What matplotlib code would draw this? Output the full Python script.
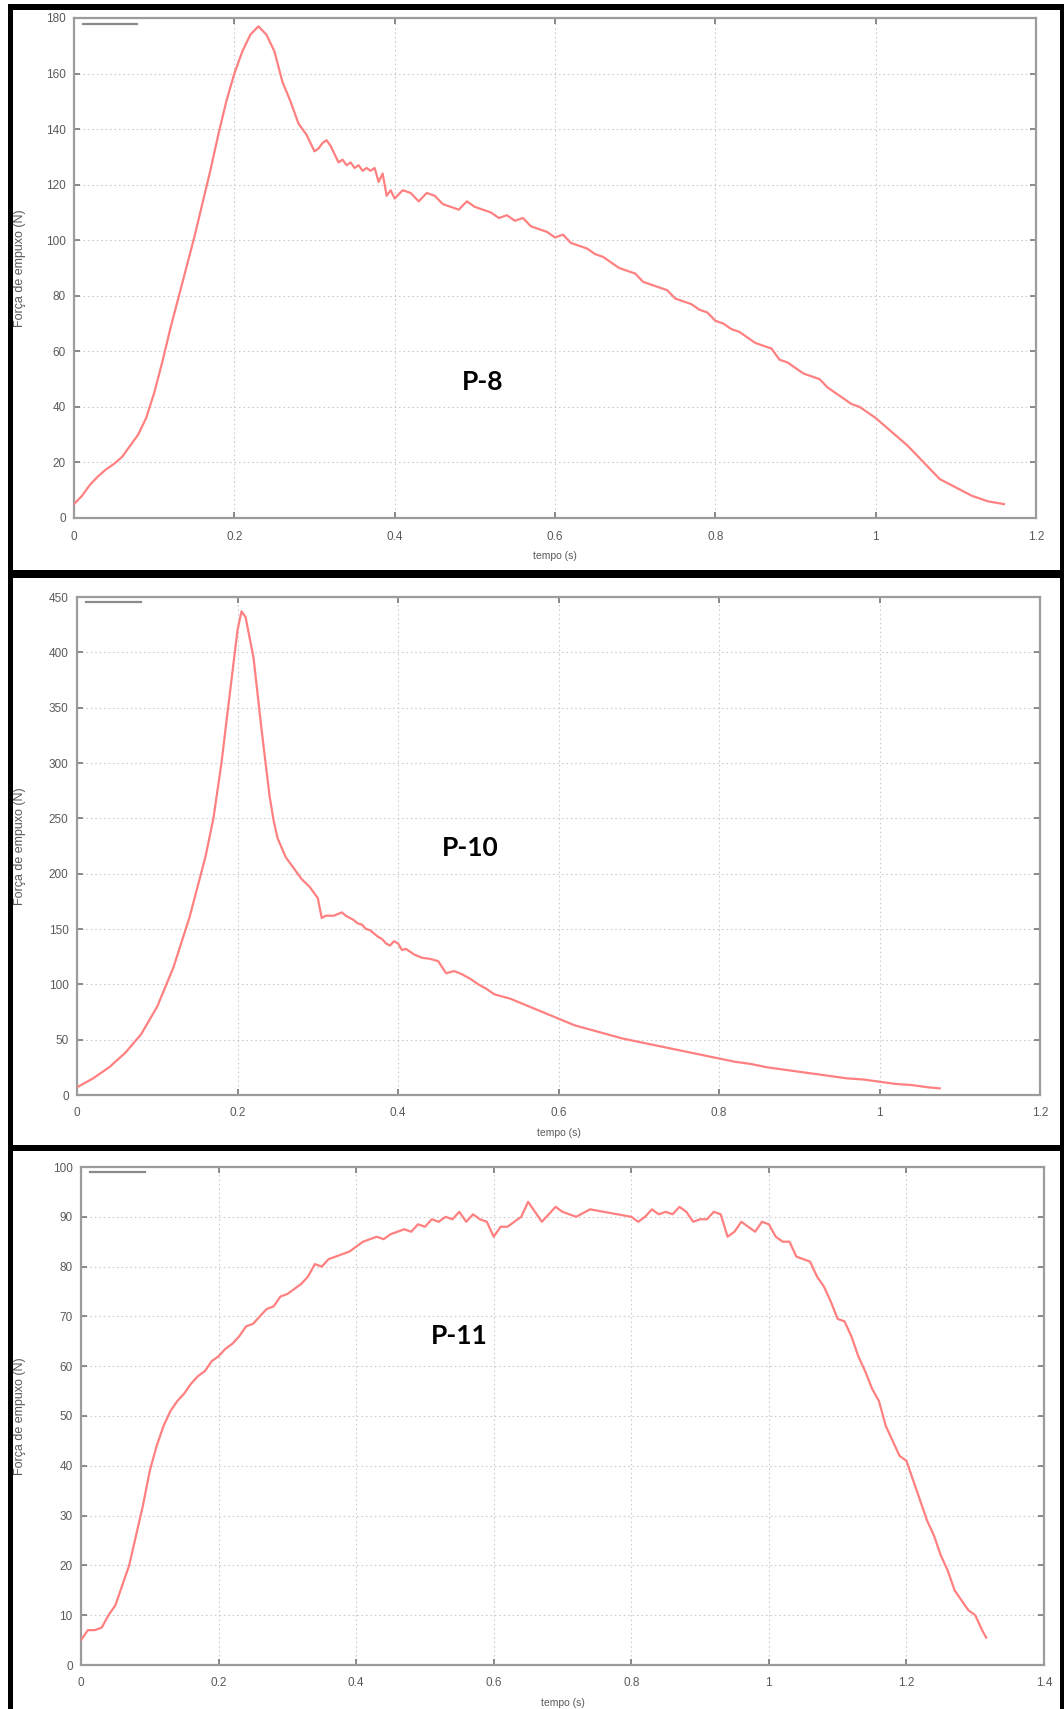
import matplotlib
matplotlib.use("Agg")
import matplotlib.pyplot as plt
from matplotlib.patches import Rectangle

# ---- Thrust curves (tempo in s, força de empuxo in N) ----
p8_t = [0.0, 0.01, 0.02, 0.03, 0.04, 0.05, 0.06, 0.07, 0.08, 0.09, 0.10, 0.11, 0.12,
        0.13, 0.14, 0.15, 0.16, 0.17, 0.18, 0.19, 0.20, 0.21, 0.22, 0.23, 0.24, 0.25,
        0.26, 0.27, 0.28, 0.29, 0.30, 0.305, 0.31, 0.315, 0.32, 0.325, 0.33, 0.335,
        0.34, 0.345, 0.35, 0.355, 0.36, 0.365,
        0.37, 0.375, 0.38, 0.385, 0.39, 0.395, 0.40, 0.41, 0.42, 0.43, 0.44, 0.45, 0.46,
        0.47, 0.48, 0.49, 0.50, 0.51, 0.52, 0.53, 0.54, 0.55, 0.56, 0.57, 0.58, 0.59,
        0.60, 0.61, 0.62, 0.63, 0.64, 0.65, 0.66, 0.67, 0.68, 0.69, 0.70, 0.71, 0.72,
        0.73, 0.74, 0.75, 0.76, 0.77, 0.78, 0.79, 0.80, 0.81, 0.82, 0.83, 0.84, 0.85,
        0.86, 0.87, 0.88, 0.89, 0.90, 0.91, 0.92, 0.93, 0.94, 0.95, 0.96, 0.97, 0.98,
        0.99, 1.00, 1.02, 1.04, 1.06, 1.08, 1.10, 1.12, 1.14, 1.16]
p8_f = [5, 8, 12, 15, 17.5, 19.5, 22, 26, 30, 36, 45, 56, 68,
        79, 90, 101, 113, 125, 138, 150, 160, 168, 174, 177, 174, 168,
        157, 150, 142, 138, 132, 133, 135, 136, 134, 131, 128, 129,
        127, 128, 126, 127, 125, 126,
        125, 126, 121, 124, 116, 118, 115, 118, 117, 114, 117, 116, 113,
        112, 111, 114, 112, 111, 110, 108, 109, 107, 108, 105, 104, 103,
        101, 102, 99, 98, 97, 95, 94, 92, 90, 89, 88, 85, 84,
        83, 82, 79, 78, 77, 75, 74, 71, 70, 68, 67, 65, 63,
        62, 61, 57, 56, 54, 52, 51, 50, 47, 45, 43, 41, 40,
        38, 36, 31, 26, 20, 14, 11, 8, 6, 5]

p10_t = [0.0, 0.02, 0.04, 0.06, 0.08, 0.10, 0.12, 0.14, 0.16, 0.17, 0.18, 0.19, 0.20,
         0.205, 0.21, 0.22, 0.23, 0.24, 0.245, 0.25, 0.26, 0.27, 0.28, 0.29, 0.30,
         0.305, 0.31, 0.32, 0.33, 0.335, 0.34, 0.345, 0.35, 0.355, 0.36, 0.365, 0.37,
         0.375, 0.38, 0.385, 0.39, 0.395, 0.40, 0.405, 0.41, 0.42,
         0.43, 0.44, 0.45, 0.46, 0.47, 0.48, 0.49, 0.50, 0.51, 0.52, 0.54, 0.56, 0.58, 0.60,
         0.62, 0.64, 0.66, 0.68, 0.70, 0.72, 0.74, 0.76, 0.78, 0.80, 0.82, 0.84, 0.86,
         0.88, 0.90, 0.92, 0.94, 0.96, 0.98, 1.00, 1.02, 1.04, 1.06, 1.075]
p10_f = [7, 15, 25, 38, 55, 80, 115, 160, 215, 250, 300, 360, 420,
         437, 432, 395, 330, 270, 248, 232, 215, 205, 195, 188, 178,
         160, 162, 162, 165, 162, 160, 158, 155, 154, 150, 149, 146,
         143, 141, 137, 135, 139, 137, 131, 132, 127,
         124, 123, 121, 110, 112, 109, 105, 100, 96, 91, 87, 81, 75, 69,
         63, 59, 55, 51, 48, 45, 42, 39, 36, 33, 30, 28, 25,
         23, 21, 19, 17, 15, 14, 12, 10, 9, 7, 6]

p11_t = [0.0, 0.01, 0.02, 0.03, 0.04, 0.05, 0.06, 0.07, 0.08, 0.09, 0.10, 0.11, 0.12,
         0.13, 0.14, 0.15, 0.16, 0.17, 0.18, 0.19, 0.20, 0.21, 0.22, 0.23, 0.24, 0.25,
         0.26, 0.27, 0.28, 0.29, 0.30, 0.31, 0.32, 0.33, 0.34, 0.35, 0.36, 0.37, 0.38,
         0.39, 0.40, 0.41, 0.42, 0.43, 0.44, 0.45, 0.46, 0.47, 0.48, 0.49, 0.50, 0.51,
         0.52, 0.53, 0.54, 0.55, 0.56, 0.57, 0.58,
         0.59, 0.60, 0.61, 0.62, 0.63, 0.64, 0.65, 0.66, 0.67, 0.68, 0.69, 0.70, 0.72,
         0.74, 0.76, 0.78, 0.80, 0.81, 0.82, 0.83, 0.84, 0.85, 0.86, 0.87, 0.88, 0.89,
         0.90, 0.91, 0.92, 0.93, 0.94, 0.95, 0.96, 0.97, 0.98, 0.99, 1.00, 1.01, 1.02,
         1.03, 1.04, 1.05, 1.06, 1.07, 1.08, 1.09, 1.10, 1.11, 1.12, 1.13, 1.14, 1.15,
         1.16, 1.17, 1.18, 1.19, 1.20, 1.21, 1.22, 1.23, 1.24, 1.25, 1.26, 1.27, 1.28,
         1.29, 1.30, 1.31, 1.316]
p11_f = [5, 7, 7, 7.5, 10, 12, 16, 20, 26, 32, 39, 44, 48,
         51, 53, 54.5, 56.5, 58, 59, 61, 62, 63.5, 64.5, 66, 68, 68.5,
         70, 71.5, 72, 74, 74.5, 75.5, 76.5, 78, 80.5, 80, 81.5, 82, 82.5,
         83, 84, 85, 85.5, 86, 85.5, 86.5, 87, 87.5, 87, 88.5, 88, 89.5,
         89, 90, 89.5, 91, 89, 90.5, 89.5,
         89, 86, 88, 88, 89, 90, 93, 91, 89, 90.5, 92, 91, 90,
         91.5, 91, 90.5, 90, 89, 90, 91.5, 90.5, 91, 90.5, 92, 91, 89,
         89.5, 89.5, 91, 90.5, 86, 87, 89, 88, 87, 89, 88.5, 86, 85,
         85, 82, 81.5, 81, 78, 76, 73, 69.5, 69, 66, 62, 59, 55.5,
         53, 48, 45, 42, 41, 37, 33, 29, 26, 22, 19, 15, 13,
         11, 10, 7, 5.5]

names = ["P-8", "P-10", "P-11"]
series_t = [p8_t, p10_t, p11_t]
series_f = [p8_f, p10_f, p11_f]
x_max = [1.2, 1.2, 1.4]
y_max = [180, 450, 100]
y_step = [20, 50, 10]
tag_xy = [(0.51, 49), (0.49, 223), (0.55, 66)]

W, H = 1064, 1709
fig = plt.figure(figsize=(W / 100, H / 100), dpi=100)
fig.patch.set_facecolor("white")

# axes boxes in pixels: left, top, right, bottom
boxes = [(74, 18, 1036, 518), (77, 597, 1040, 1095), (81, 1167, 1044, 1665)]

frame_c = "#9c9c9c"
text_c = "#5a5a5a"
line_c = "#ff8080"

for i in range(3):
    l, t, r, b = boxes[i]
    ax = fig.add_axes([l / W, 1 - b / H, (r - l) / W, (b - t) / H])
    ax.plot(series_t[i], series_f[i], color=line_c, lw=1.6, zorder=3)
    ax.set_xlim(0, x_max[i])
    ax.set_ylim(0, y_max[i])
    xt = [round(0.2 * k, 1) for k in range(int(round(x_max[i] / 0.2)) + 1)]
    ax.set_xticks(xt)
    ax.set_xticklabels(["0" if v == 0 else ("1" if v == 1 else f"{v:g}") for v in xt])
    ax.set_yticks(range(0, y_max[i] + 1, y_step[i]))
    ax.grid(True, color="#cdcdcd", lw=0.8, ls=(0, (1.5, 2.5)))
    ax.set_axisbelow(True)
    for s in ax.spines.values():
        s.set_color(frame_c)
        s.set_linewidth(1.6)
    ax.tick_params(direction="in", length=4, width=1.2, color="#777777",
                   top=True, right=True, labelsize=8.5, labelcolor=text_c)
    ax.tick_params(axis="x", pad=9)
    ax.tick_params(axis="y", pad=6)
    for lab in ax.get_xticklabels() + ax.get_yticklabels():
        lab.set_family("Liberation Sans")
    ax.set_xlabel("tempo (s)", fontsize=7.5, color=text_c, family="Liberation Sans", labelpad=6)
    ax.set_ylabel("Força de empuxo (N)", fontsize=9, color=text_c, family="Liberation Sans")
    # y label sits just inside the black frame
    ax.yaxis.set_label_coords((26 - l) / (r - l), 0.5)
    # short key line in the upper-left corner
    ax.plot([0.009, 0.066], [0.989, 0.989], transform=ax.transAxes,
            color="#8a8a8a", lw=1.6, clip_on=False)
    ax.text(tag_xy[i][0], tag_xy[i][1], names[i], fontsize=19, fontweight="bold",
            family="Lato", color="black", ha="center", va="center")

# black panel frames
def band(x0, y0, x1, y1):
    fig.add_artist(Rectangle((x0 / W, 1 - y1 / H), (x1 - x0) / W, (y1 - y0) / H,
                             transform=fig.transFigure, facecolor="black",
                             edgecolor="none", zorder=10))

band(8, 4, 1064, 10)       # top edge
band(8, 4, 13, H)          # left edge
band(1060, 4, 1064, H)     # right edge
band(8, 570, 1064, 578)    # separator 1
band(8, 1145, 1064, 1151)  # separator 2

fig.savefig("out.png", dpi=100, facecolor="white")
